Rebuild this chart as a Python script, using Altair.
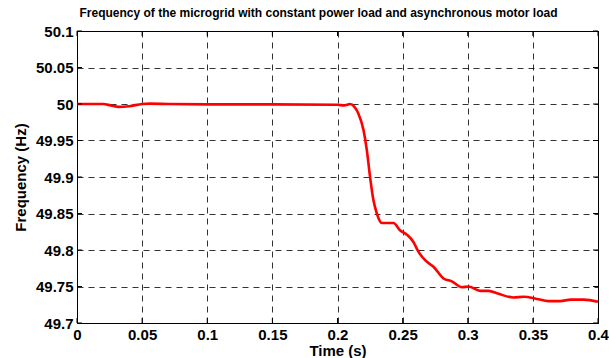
import altair as alt
import pandas as pd

time_s = [0, 0.02, 0.026, 0.032, 0.04, 0.05, 0.056, 0.07, 0.1, 0.15, 0.2, 0.205, 0.2097,
          0.213, 0.216, 0.22, 0.2225, 0.225, 0.2276, 0.2302, 0.234, 0.238, 0.243, 0.248,
          0.2533, 0.2583, 0.262, 0.2673, 0.2737, 0.2814, 0.2878, 0.2955, 0.3006, 0.3095,
          0.316, 0.3236, 0.335, 0.343, 0.353, 0.362, 0.371, 0.379, 0.389, 0.4]
freq_hz = [50.0, 50.0, 49.998, 49.996, 49.997, 50.0, 50.0005, 50.0, 49.9995, 49.9995, 49.999,
           49.998, 50.0, 49.996, 49.987, 49.964, 49.937, 49.900, 49.868, 49.850, 49.837,
           49.837, 49.837, 49.827, 49.821, 49.811, 49.798, 49.786, 49.777, 49.761, 49.757,
           49.749, 49.750, 49.744, 49.744, 49.740, 49.735, 49.736, 49.733, 49.730, 49.730,
           49.732, 49.732, 49.729]
x_ticks = [0, 0.05, 0.1, 0.15, 0.2, 0.25, 0.3, 0.35, 0.4]
y_ticks = [49.7, 49.75, 49.8, 49.85, 49.9, 49.95, 50.0, 50.05, 50.1]

W, H = 521, 292
FONT = "Liberation Sans"

df = pd.DataFrame({"t": time_s, "f": freq_hz})
xt = pd.DataFrame({"t": x_ticks})
yt = pd.DataFrame({"f": y_ticks})

xscale = alt.Scale(domain=[0, 0.4], nice=False, zero=False)
yscale = alt.Scale(domain=[49.7, 50.1], nice=False, zero=False)

common = dict(ticks=False, labelFlush=False, labelOverlap=False, labelFontSize=15,
              labelFontWeight="bold", labelColor="black", labelFont=FONT, titleFont=FONT,
              titleFontSize=15, titleFontWeight="bold", titleColor="black",
              domainColor="black", grid=True, gridColor="black", gridDash=[6, 5],
              gridOpacity=0.8, labelExpr="format(datum.value, '~g')")

xaxis = alt.Axis(values=x_ticks, title="Time (s)", labelPadding=4, titlePadding=1, **common)
yaxis = alt.Axis(values=y_ticks, title="Frequency (Hz)", labelPadding=4, titlePadding=7, **common)

X = alt.X("t:Q", scale=xscale, axis=xaxis)
Y = alt.Y("f:Q", scale=yscale, axis=yaxis)

line = alt.Chart(df).mark_line(color="#ff0000", strokeWidth=2.6, interpolate="monotone").encode(
    x=X, y=Y)

tick_bottom = alt.Chart(xt).mark_rule(color="black").encode(
    x=X, y=alt.value(H), y2=alt.value(H - 5))
tick_top = alt.Chart(xt).mark_rule(color="black").encode(
    x=X, y=alt.value(0), y2=alt.value(5))
tick_left = alt.Chart(yt).mark_rule(color="black").encode(
    y=Y, x=alt.value(0), x2=alt.value(5))
tick_right = alt.Chart(yt).mark_rule(color="black").encode(
    y=Y, x=alt.value(W), x2=alt.value(W - 5))

chart = alt.layer(line, tick_bottom, tick_top, tick_left, tick_right).properties(
    width=W, height=H,
    title=alt.TitleParams("Frequency of the microgrid with constant power load and asynchronous motor load",
                          font=FONT, fontSize=12, fontWeight="bold", color="black",
                          anchor="middle", dx=-19, offset=4),
    autosize=alt.AutoSizeParams(type="none"),
    padding={"left": 77, "top": 31, "right": 11, "bottom": 35},
    background="white",
).configure_view(stroke="black", strokeWidth=1)

chart.save("out.html", embed_options={"renderer": "svg", "actions": False})
